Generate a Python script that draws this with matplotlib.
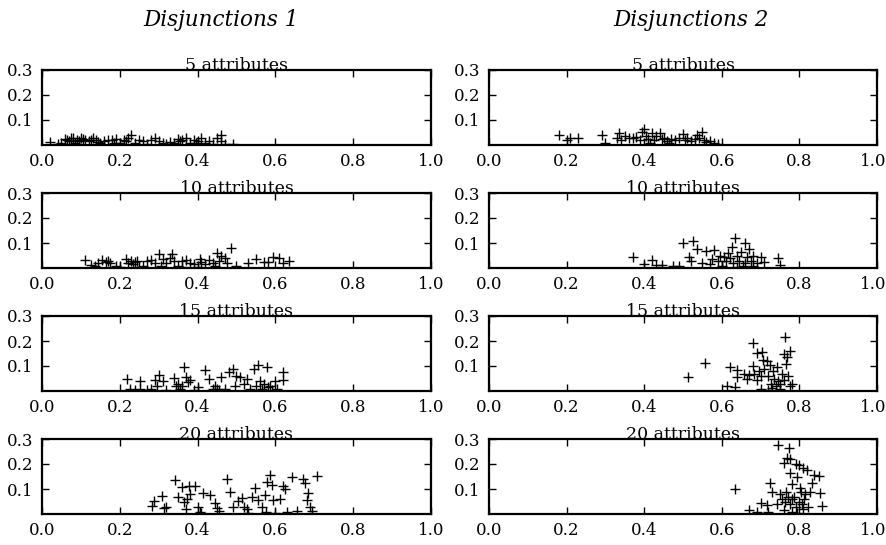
"""
Scatter grid: two disjunction settings, four attribute counts each.
"""

import matplotlib
matplotlib.use("Agg")
import matplotlib.pyplot as plt
import matplotlib.transforms as mtransforms


# column titles and row titles
column_titles = ["Disjunctions 1", "Disjunctions 2"]
row_titles = ["5 attributes", "10 attributes", "15 attributes", "20 attributes"]

# ---- Disjunctions 1 ----
d1_5_x = [0.02, 0.04, 0.05, 0.06, 0.07, 0.08, 0.09, 0.10, 0.11, 0.12, 0.13, 0.14,
          0.15, 0.16, 0.17, 0.18, 0.19, 0.20, 0.21, 0.22, 0.23, 0.24, 0.25, 0.26,
          0.27, 0.28, 0.29, 0.30, 0.31, 0.32, 0.34, 0.35, 0.36, 0.37, 0.38, 0.39,
          0.40, 0.41, 0.42, 0.43, 0.44, 0.45, 0.46, 0.46, 0.47, 0.49, 0.065, 0.085,
          0.075, 0.095, 0.105, 0.125, 0.145, 0.185, 0.215, 0.33, 0.355, 0.395]
d1_5_y = [0.012, 0.005, 0.01, 0.025, 0.015, 0.03, 0.02, 0.028, 0.02, 0.015, 0.03, 0.02,
          0.01, 0.015, 0.02, 0.02, 0.025, 0.01, 0.02, 0.03, 0.04, 0.01, 0.02, 0.015,
          0.005, 0.02, 0.03, 0.015, 0.01, 0.005, 0.01, 0.025, 0.02, 0.03, 0.01, 0.02,
          0.015, 0.03, 0.01, 0.015, 0.005, 0.03, 0.042, 0.015, 0.005, 0.003, 0.02, 0.01,
          0.03, 0.015, 0.025, 0.02, 0.012, 0.01, 0.015, 0.012, 0.015, 0.01]

d1_10_x = [0.11, 0.125, 0.135, 0.145, 0.155, 0.165, 0.17, 0.175, 0.19, 0.20, 0.215,
           0.22, 0.23, 0.235, 0.24, 0.245, 0.26, 0.27, 0.28, 0.29, 0.30, 0.305, 0.31,
           0.32, 0.33, 0.335, 0.34, 0.35, 0.36, 0.37, 0.38, 0.39, 0.40, 0.405, 0.41,
           0.42, 0.43, 0.44, 0.45, 0.455, 0.46, 0.47, 0.475, 0.485, 0.50, 0.53, 0.55,
           0.57, 0.58, 0.595, 0.61, 0.62, 0.635, 0.25, 0.36, 0.445]
d1_10_y = [0.032, 0.012, 0.01, 0.02, 0.033, 0.025, 0.03, 0.02, 0.01, 0.005, 0.035,
           0.02, 0.03, 0.015, 0.025, 0.03, 0.01, 0.03, 0.033, 0.02, 0.056, 0.01, 0.035,
           0.02, 0.04, 0.055, 0.03, 0.01, 0.03, 0.033, 0.02, 0.015, 0.005, 0.035, 0.025,
           0.015, 0.033, 0.02, 0.06, 0.03, 0.05, 0.04, 0.02, 0.08, 0.01, 0.02, 0.035,
           0.025, 0.025, 0.045, 0.04, 0.022, 0.03, 0.005, 0.005, 0.01]

d1_15_x = [0.218, 0.227, 0.24, 0.253, 0.253, 0.27, 0.28, 0.29, 0.295, 0.30, 0.31,
           0.32, 0.34, 0.345, 0.355, 0.365, 0.37, 0.375, 0.38, 0.39, 0.40, 0.42, 0.43,
           0.44, 0.445, 0.455, 0.46, 0.47, 0.48, 0.49, 0.495, 0.50, 0.51, 0.52, 0.526,
           0.535, 0.545, 0.55, 0.556, 0.56, 0.565, 0.57, 0.578, 0.585, 0.59, 0.60,
           0.605, 0.62, 0.62, 0.35, 0.36, 0.45, 0.56, 0.58]
d1_15_y = [0.047, 0.01, 0.005, 0.01, 0.039, 0.005, 0.01, 0.044, 0.02, 0.064, 0.04,
           0.005, 0.051, 0.02, 0.01, 0.095, 0.057, 0.035, 0.045, 0.005, 0.018, 0.085, 0.05,
           0.01, 0.02, 0.005, 0.055, 0.01, 0.077, 0.09, 0.02, 0.06, 0.055, 0.03, 0.05,
           0.01, 0.089, 0.02, 0.104, 0.04, 0.01, 0.03, 0.095, 0.02, 0.005, 0.04,
           0.01, 0.077, 0.044, 0.03, 0.02, 0.01, 0.005, 0.015]

d1_20_x = [0.283, 0.287, 0.308, 0.313, 0.32, 0.342, 0.35, 0.36, 0.365, 0.372, 0.377,
           0.38, 0.394, 0.40, 0.407, 0.415, 0.432, 0.445, 0.45, 0.455, 0.475, 0.484,
           0.49, 0.505, 0.514, 0.52, 0.527, 0.54, 0.548, 0.556, 0.565, 0.573, 0.578,
           0.586, 0.59, 0.595, 0.612, 0.62, 0.625, 0.63, 0.642, 0.655, 0.672, 0.676,
           0.68, 0.685, 0.69, 0.694, 0.706, 0.37, 0.41, 0.53, 0.575, 0.60]
d1_20_y = [0.033, 0.053, 0.073, 0.025, 0.028, 0.135, 0.07, 0.108, 0.05, 0.06, 0.114,
           0.08, 0.112, 0.03, 0.01, 0.083, 0.075, 0.045, 0.025, 0.012, 0.139, 0.09,
           0.03, 0.053, 0.065, 0.03, 0.02, 0.07, 0.103, 0.055, 0.03, 0.075, 0.13,
           0.155, 0.115, 0.055, 0.06, 0.112, 0.1, 0.01, 0.149, 0.012, 0.139, 0.125,
           0.055, 0.085, 0.03, 0.012, 0.152, 0.02, 0.005, 0.005, 0.01, 0.005]

# ---- Disjunctions 2 ----
d2_5_x = [0.18, 0.20, 0.21, 0.23, 0.29, 0.30, 0.33, 0.335, 0.34, 0.35, 0.36, 0.37,
          0.38, 0.39, 0.395, 0.40, 0.405, 0.41, 0.42, 0.425, 0.43, 0.44, 0.445, 0.45,
          0.46, 0.47, 0.48, 0.49, 0.50, 0.505, 0.51, 0.52, 0.53, 0.535, 0.54, 0.55,
          0.555, 0.56, 0.57, 0.58, 0.59, 0.415, 0.465]
d2_5_y = [0.04, 0.02, 0.028, 0.028, 0.042, 0.01, 0.03, 0.048, 0.02, 0.035, 0.03, 0.028,
          0.032, 0.02, 0.052, 0.065, 0.035, 0.025, 0.048, 0.02, 0.035, 0.05, 0.025, 0.03,
          0.015, 0.025, 0.02, 0.03, 0.045, 0.02, 0.03, 0.015, 0.025, 0.04, 0.03, 0.052,
          0.02, 0.012, 0.015, 0.01, 0.005, 0.01, 0.01]

d2_10_x = [0.372, 0.40, 0.42, 0.43, 0.445, 0.475, 0.49, 0.50, 0.515, 0.52, 0.525,
           0.535, 0.55, 0.56, 0.57, 0.575, 0.58, 0.59, 0.595, 0.60, 0.605, 0.61, 0.615,
           0.62, 0.625, 0.63, 0.635, 0.64, 0.645, 0.65, 0.655, 0.66, 0.665, 0.67, 0.675,
           0.68, 0.69, 0.70, 0.71, 0.745, 0.75, 0.60, 0.64, 0.66, 0.68]
d2_10_y = [0.046, 0.017, 0.033, 0.012, 0.012, 0.01, 0.01, 0.099, 0.045, 0.03, 0.11,
           0.075, 0.02, 0.07, 0.015, 0.035, 0.072, 0.03, 0.05, 0.01, 0.045, 0.03, 0.06,
           0.04, 0.086, 0.02, 0.12, 0.05, 0.03, 0.065, 0.01, 0.10, 0.045, 0.075, 0.03,
           0.05, 0.02, 0.045, 0.025, 0.04, 0.012, 0.005, 0.005, 0.02, 0.008]

d2_15_x = [0.514, 0.557, 0.613, 0.62, 0.635, 0.64, 0.64, 0.656, 0.665, 0.67, 0.68,
           0.68, 0.682, 0.69, 0.69, 0.695, 0.70, 0.703, 0.707, 0.71, 0.716, 0.72, 0.725,
           0.728, 0.733, 0.735, 0.74, 0.742, 0.745, 0.75, 0.755, 0.76, 0.763, 0.765,
           0.768, 0.77, 0.775, 0.776, 0.78, 0.70, 0.72, 0.73, 0.75, 0.76]
d2_15_y = [0.057, 0.111, 0.02, 0.097, 0.015, 0.084, 0.057, 0.07, 0.05, 0.065, 0.193,
           0.1, 0.07, 0.153, 0.045, 0.08, 0.06, 0.157, 0.124, 0.09, 0.12, 0.06, 0.105,
           0.03, 0.08, 0.05, 0.02, 0.097, 0.04, 0.03, 0.07, 0.15, 0.215, 0.11, 0.137,
           0.06, 0.02, 0.161, 0.03, 0.01, 0.005, 0.012, 0.008, 0.045]

d2_20_x = [0.635, 0.669, 0.69, 0.70, 0.716, 0.72, 0.725, 0.73, 0.742, 0.746, 0.75,
           0.755, 0.76, 0.763, 0.765, 0.768, 0.77, 0.772, 0.775, 0.776, 0.776, 0.78,
           0.782, 0.785, 0.79, 0.792, 0.794, 0.798, 0.80, 0.802, 0.804, 0.806, 0.81,
           0.812, 0.815, 0.82, 0.822, 0.828, 0.832, 0.837, 0.85, 0.854, 0.858, 0.76,
           0.78, 0.795, 0.81]
d2_20_y = [0.099, 0.018, 0.01, 0.045, 0.035, 0.01, 0.125, 0.088, 0.04, 0.275, 0.08,
           0.06, 0.205, 0.05, 0.09, 0.225, 0.07, 0.265, 0.04, 0.165, 0.22, 0.12,
           0.06, 0.07, 0.20, 0.03, 0.15, 0.198, 0.05, 0.105, 0.09, 0.04, 0.185,
           0.06, 0.08, 0.177, 0.03, 0.09, 0.125, 0.158, 0.152, 0.085, 0.033, 0.015,
           0.01, 0.005, 0.02]

panels = [
    [(d1_5_x, d1_5_y), (d2_5_x, d2_5_y)],
    [(d1_10_x, d1_10_y), (d2_10_x, d2_10_y)],
    [(d1_15_x, d1_15_y), (d2_15_x, d2_15_y)],
    [(d1_20_x, d1_20_y), (d2_20_x, d2_20_y)],
]

x_ticks = [0.0, 0.2, 0.4, 0.6, 0.8, 1.0]
y_ticks = [0.1, 0.2, 0.3]

plt.rcParams["font.family"] = "DejaVu Serif"

fig = plt.figure(figsize=(8.87, 5.45), dpi=100)

W, H = 887.0, 545.0
col_left = [42, 489]
col_width = [389, 388]
row_top = [70, 193, 316, 439]
box_h = 75
title_cx = [221, 691]

for r in range(4):
    for c in range(2):
        ax = fig.add_axes([col_left[c] / W, 1 - (row_top[r] + box_h) / H,
                           col_width[c] / W, box_h / H])
        xs, ys = panels[r][c]
        ax.plot(xs, ys, linestyle="none", marker="+", markersize=6.5,
                markeredgewidth=1.0, color="black")
        ax.set_xlim(0, 1)
        ax.set_ylim(0, 0.3)
        ax.set_xticks(x_ticks)
        ax.set_xticklabels([f"{t:.1f}" for t in x_ticks])
        ax.set_yticks(y_ticks)
        ax.set_yticklabels([f"{t:.1f}" for t in y_ticks])
        ax.tick_params(direction="in", length=5, width=1, top=True, right=True,
                       labelsize=12, pad=6)
        for s in ax.spines.values():
            s.set_linewidth(1.6)
        ax.set_title(row_titles[r], fontsize=12.5, pad=0)
        if c == 1:
            # keep the last "1.0" inside the figure edge
            lbl = ax.get_xticklabels()[-1]
            lbl.set_transform(lbl.get_transform() +
                              mtransforms.ScaledTranslation(-4 / 100, 0, fig.dpi_scale_trans))

for c in range(2):
    fig.text(title_cx[c] / W, 1 - 20 / H, column_titles[c], ha="center", va="center",
             fontsize=15.5, style="italic")

plt.savefig("out.png", dpi=100)
